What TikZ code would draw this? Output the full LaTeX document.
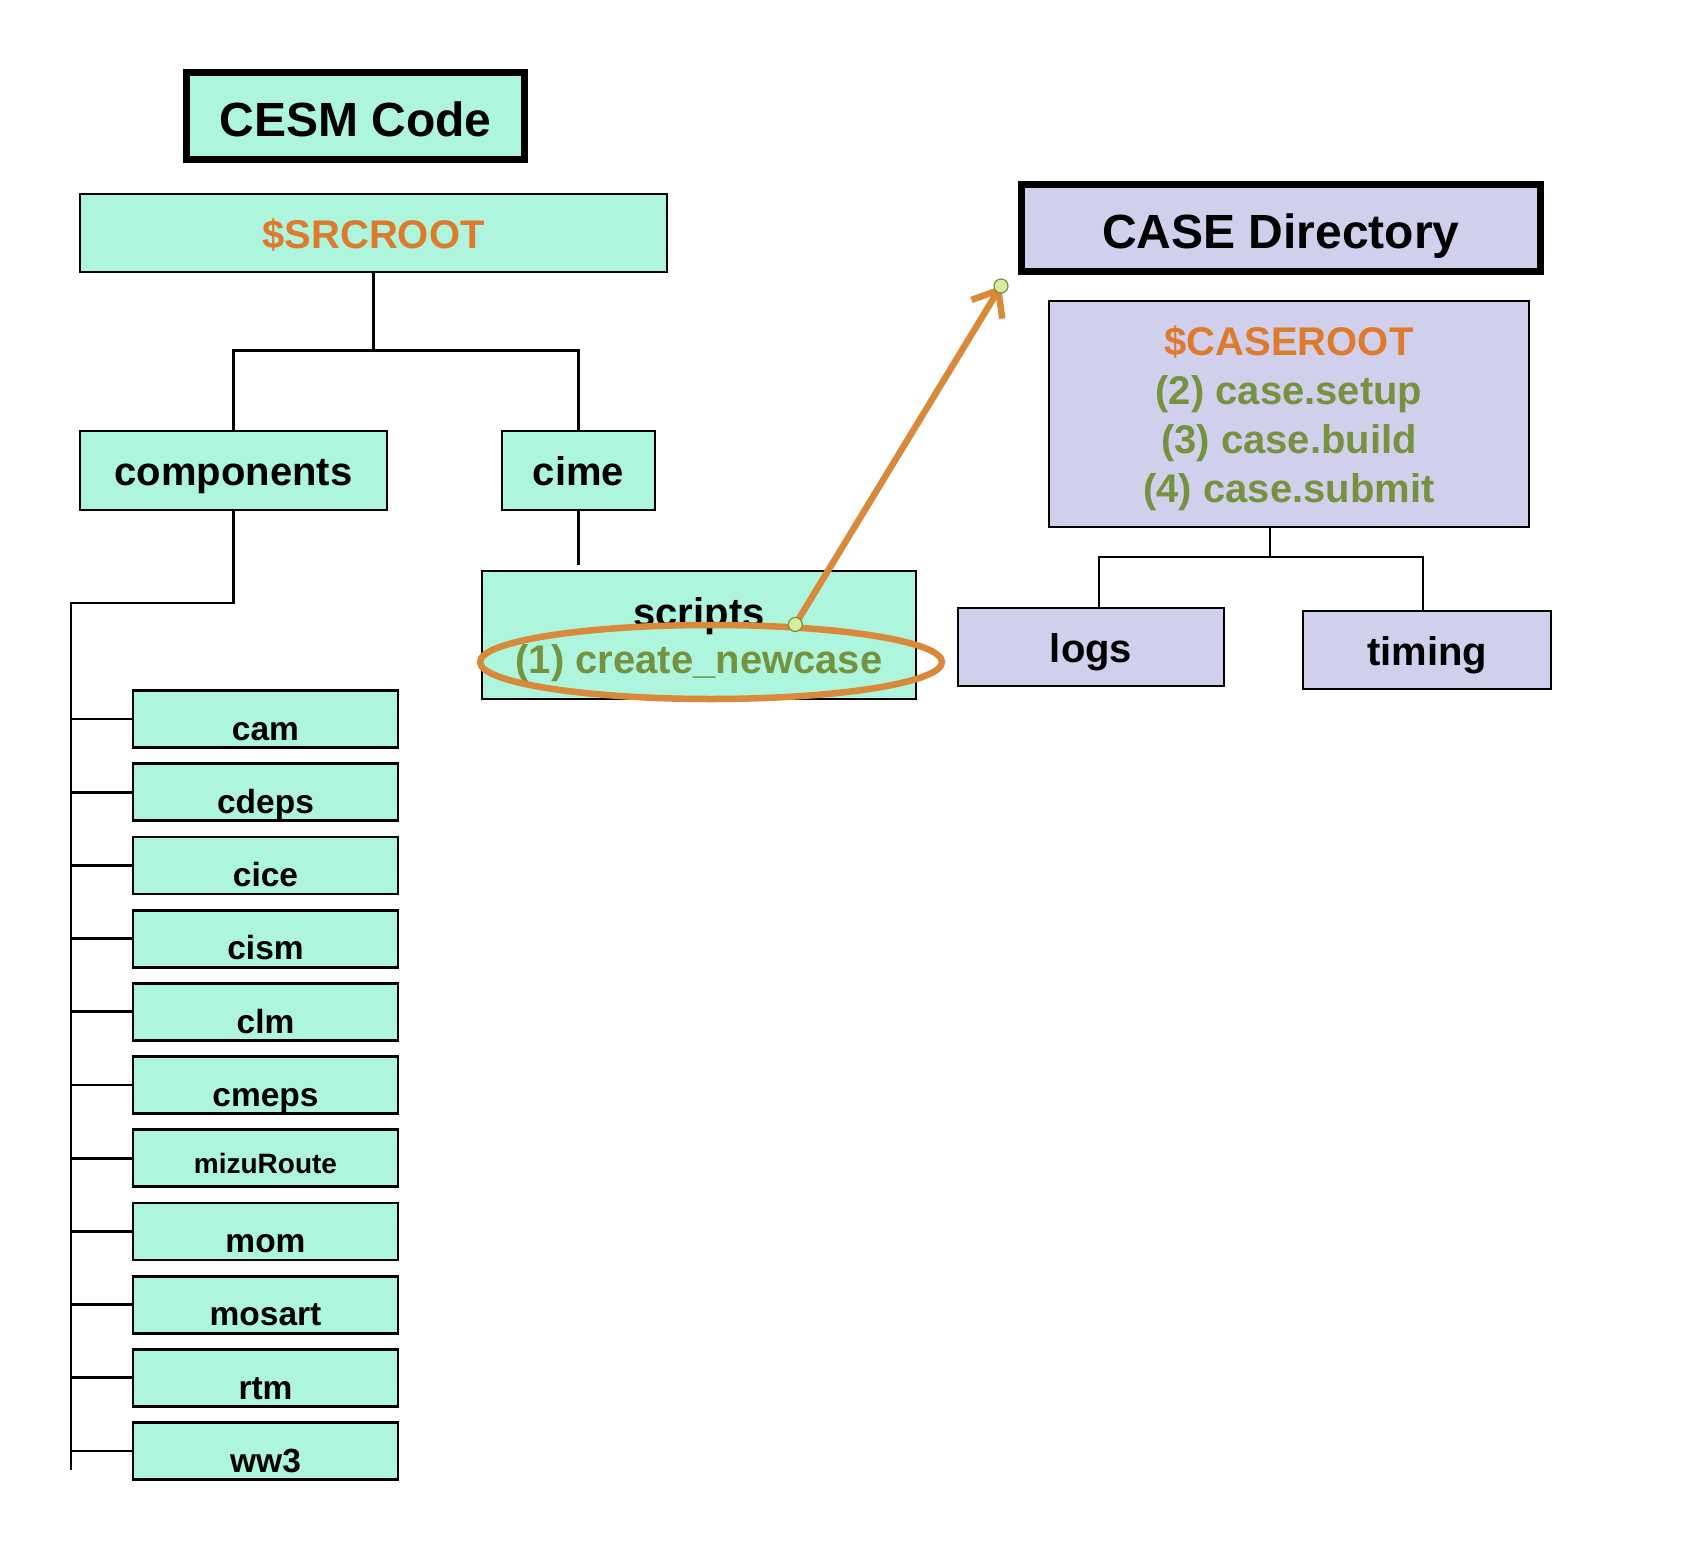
\documentclass[tikz,border=0pt]{standalone}
\usepackage{fontspec}
\setmainfont{Liberation Sans}
\usetikzlibrary{arrows.meta,shapes.geometric}
\definecolor{mint}{RGB}{173,245,221}
\definecolor{lav}{RGB}{208,208,236}
\definecolor{rootorange}{RGB}{222,122,44}
\definecolor{cmdgreen}{RGB}{118,146,62}
\definecolor{ringorange}{RGB}{217,137,58}
\definecolor{dotgreen}{RGB}{214,238,160}
\begin{document}
\begin{tikzpicture}[x=0.5pt,y=-0.5pt,
  box/.style={draw,line width=1.4pt,inner sep=1pt,text depth=0pt,font=\bfseries\fontsize{20}{24}\selectfont},
  oneline/.style={text height=15pt},
  titlebox/.style={draw,line width=3.5pt,inner sep=1pt,text height=20pt,text depth=0pt,font=\bfseries\fontsize{24}{28}\selectfont},
  compbox/.style={box,fill=mint,minimum width=132.5pt,minimum height=28.5pt},
  tree/.style={line width=1.4pt},
  handle/.style={circle,draw=cmdgreen,fill=dotgreen,line width=0.6pt,inner sep=0pt,minimum size=7pt}]
  \useasboundingbox (0,0) rectangle (1686,1558);
  % source tree
  \node[titlebox,fill=mint,minimum width=169pt,minimum height=43.5pt] (cesm) at (355.5,116) {CESM Code};
  \node[box,oneline,fill=mint,minimum width=293.5pt,minimum height=39pt,text=rootorange] (src) at (373.5,233) {\$SRCROOT};
  \node[box,oneline,fill=mint,minimum width=153.5pt,minimum height=39.5pt] (comp) at (233.5,470.5) {components};
  \node[box,oneline,fill=mint,minimum width=76.5pt,minimum height=39.5pt] (cime) at (578.5,470.5) {cime};
  \node[box,fill=mint,minimum width=217pt,minimum height=64pt,align=center,
    font=\bfseries\fontsize{20}{23.5}\selectfont] (scripts) at (699,635)
    {scripts\\ \textcolor{cmdgreen}{(1) create\_newcase}};
  \coordinate (srcfork) at (373.5,350.5);
  \draw[tree] (src.south) -- (srcfork);
  \draw[tree] (comp.north) |- (srcfork) -| (cime.north);
  \draw[tree] (cime.south) -- ([yshift=2.5pt]cime |- scripts.north);
  \coordinate (spine) at (71,603);
  \coordinate (spineend) at (71,1470);
  \draw[tree] (comp.south) |- (spine) -- (spineend);
  \foreach \name/\fs/\th [count=\i from 0] in {cam/16.75/21.3,cdeps/16.75/21.3,cice/16.75/21.3,
      cism/16.75/21.3,clm/16.75/21.3,cmeps/16.75/21.3,mizuRoute/14/15.2,mom/16.75/21.3,
      mosart/16.75/21.3,rtm/16.75/21.3,ww3/16.75/21.3} {
    \node[compbox,text height=\th pt,font=\bfseries\fontsize{\fs}{\fs}\selectfont]
      (\name) at (265.5,{719+73.2*\i}) {\name};
    \draw[tree] (\name.west) -- (\name.west -| spine);
  }
  % case directory
  \node[titlebox,fill=lav,minimum width=259.5pt,minimum height=43.75pt] (casedir) at (1281,228) {CASE Directory};
  \node[box,fill=lav,minimum width=240pt,minimum height=113pt,align=center,
    font=\bfseries\fontsize{20}{24.5}\selectfont] (caseroot) at (1289,414)
    {\textcolor{rootorange}{\$CASEROOT}\\ \textcolor{cmdgreen}{(2) case.setup}\\
     \textcolor{cmdgreen}{(3) case.build}\\ \textcolor{cmdgreen}{(4) case.submit}};
  \node[box,oneline,fill=lav,minimum width=133pt,minimum height=39pt] (logs) at (1091,647) {logs};
  \node[box,oneline,fill=lav,minimum width=124pt,minimum height=39pt] (timing) at (1427,650) {timing};
  \coordinate (casefork) at (1270,557);
  \draw[tree] (casefork |- caseroot.south) -- (casefork);
  \draw[tree] ([xshift=4pt]logs.north) |- (casefork) -| ([xshift=-2pt]timing.north);
  % highlight and arrow
  \node[ellipse,draw=ringorange,line width=3.25pt,minimum width=231pt,minimum height=37pt] (ring) at (711,662) {};
  \coordinate (target) at (1001,286);
  \draw[ringorange,line width=3.25pt,line cap=round,-{Straight Barb[length=11pt,width=18pt]}] (ring.24) -- (target);
  \node[handle] (starthandle) at (ring.24) {};
  \node[handle] (endhandle) at (target) {};
\end{tikzpicture}
\end{document}
